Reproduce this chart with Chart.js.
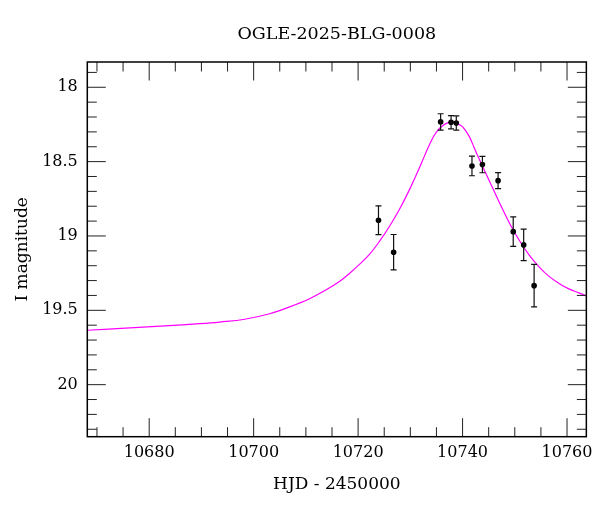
<!DOCTYPE html>
<html>
<head>
<meta charset="utf-8">
<script src="https://cdn.jsdelivr.net/npm/chart.js@4"></script>
<style>
  html, body { margin: 0; padding: 0; background: #fff; }
  #wrap { width: 600px; height: 512px; position: relative; }
</style>
</head>
<body>
<div id="wrap"><canvas id="c"></canvas></div>
<script>
// ---- Data ----
const obsHJD = [10723.9, 10726.8, 10735.8, 10737.8, 10738.8, 10741.8, 10743.8, 10746.8, 10749.7, 10751.7, 10753.7];
const obsMag = [18.894, 19.109, 18.233, 18.235, 18.240, 18.529, 18.520, 18.628, 18.971, 19.060, 19.334];
const obsErr = [0.097, 0.119, 0.055, 0.045, 0.048, 0.066, 0.055, 0.054, 0.099, 0.106, 0.143];

const modelHJD = [10668.15, 10676.31, 10683.0, 10689.68, 10693.5, 10698.28, 10703.06, 10706.88, 10710.70, 10713.56,
                  10716.43, 10718.34, 10720.25, 10722.17, 10724.08, 10725.99, 10727.90, 10729.81, 10731.72, 10732.7,
                  10733.63, 10734.5, 10735.3, 10736.1, 10736.9, 10737.9, 10738.9, 10739.6, 10740.12, 10741.27,
                  10742.22, 10743.18, 10745.09, 10747.0, 10748.91, 10750.82, 10752.73, 10754.64, 10756.55, 10758.46,
                  10760.37, 10762.28, 10763.7];
const modelMag = [19.634, 19.618, 19.605, 19.590, 19.579, 19.560, 19.523, 19.477, 19.422, 19.369,
                  19.306, 19.252, 19.191, 19.124, 19.037, 18.936, 18.822, 18.690, 18.543, 18.463,
                  18.389, 18.328, 18.288, 18.261, 18.243, 18.235, 18.243, 18.256, 18.270, 18.330,
                  18.406, 18.482, 18.627, 18.771, 18.909, 19.027, 19.127, 19.208, 19.272, 19.319,
                  19.356, 19.383, 19.403];

const xTickValues = [10680, 10700, 10720, 10740, 10760];
const xTickLabels = ["10680", "10700", "10720", "10740", "10760"];
const yTickValues = [18, 18.5, 19, 19.5, 20];
const yTickLabels = ["18", "18.5", "19", "19.5", "20"];

const titleText = "OGLE-2025-BLG-0008";
const xTitle = "HJD - 2450000";
const yTitle = "I magnitude";

const X_MIN = 10668.15, X_MAX = 10763.7;
const Y_MIN = 17.83, Y_MAX = 20.35;
const X_MINOR_STEP = 5, Y_MINOR_STEP = 0.1;

// ---- Plugins ----
const frameTicks = {
  id: 'frameTicks',
  afterDraw(chart) {
    const {ctx, chartArea: a, scales: {x, y}} = chart;
    ctx.save();
    ctx.strokeStyle = '#222';
    ctx.lineWidth = 1;
    const MAJ = 18.5, MIN = 9.5;
    const x0 = Math.ceil(X_MIN / X_MINOR_STEP) * X_MINOR_STEP;
    for (let v = x0; v <= X_MAX + 1e-9; v += X_MINOR_STEP) {
      const px = x.getPixelForValue(v);
      const major = xTickValues.some(t => Math.abs(t - v) < 1e-6);
      const len = major ? MAJ : MIN;
      ctx.beginPath();
      ctx.moveTo(px, a.bottom); ctx.lineTo(px, a.bottom - len);
      ctx.moveTo(px, a.top); ctx.lineTo(px, a.top + len);
      ctx.stroke();
    }
    const y0 = Math.ceil(Y_MIN / Y_MINOR_STEP - 1e-9);
    for (let k = y0; k * Y_MINOR_STEP <= Y_MAX + 1e-9; k++) {
      const v = k * Y_MINOR_STEP;
      const py = y.getPixelForValue(v);
      const major = yTickValues.some(t => Math.abs(t - v) < 1e-6);
      const len = major ? MAJ : MIN;
      ctx.beginPath();
      ctx.moveTo(a.left, py); ctx.lineTo(a.left + len, py);
      ctx.moveTo(a.right, py); ctx.lineTo(a.right - len, py);
      ctx.stroke();
    }
    ctx.strokeStyle = '#000';
    ctx.lineWidth = 1.5;
    ctx.strokeRect(a.left, a.top, a.right - a.left, a.bottom - a.top);
    ctx.restore();
  }
};

const errorBars = {
  id: 'errorBars',
  afterDatasetsDraw(chart) {
    const {ctx, scales: {x, y}} = chart;
    ctx.save();
    ctx.strokeStyle = '#111';
    ctx.lineWidth = 1.2;
    for (let i = 0; i < obsHJD.length; i++) {
      const px = x.getPixelForValue(obsHJD[i]);
      const p1 = y.getPixelForValue(obsMag[i] - obsErr[i]);
      const p2 = y.getPixelForValue(obsMag[i] + obsErr[i]);
      const cap = 3;
      ctx.beginPath();
      ctx.moveTo(px, p1); ctx.lineTo(px, p2);
      ctx.moveTo(px - cap, p1); ctx.lineTo(px + cap, p1);
      ctx.moveTo(px - cap, p2); ctx.lineTo(px + cap, p2);
      ctx.stroke();
    }
    ctx.restore();
  }
};

const serif = 'DejaVu Serif';

new Chart(document.getElementById('c'), {
  type: 'scatter',
  data: {
    datasets: [
      {
        label: 'data',
        data: obsHJD.map((t, i) => ({x: t, y: obsMag[i]})),
        backgroundColor: '#000',
        borderColor: '#000',
        pointRadius: 2.8,
        pointBorderWidth: 0,
        showLine: false
      },
      {
        label: 'model',
        data: modelHJD.map((t, i) => ({x: t, y: modelMag[i]})),
        borderColor: '#ff00ff',
        borderWidth: 1.2,
        pointRadius: 0,
        showLine: true,
        fill: false,
        tension: 0.4
      }
    ]
  },
  plugins: [errorBars, frameTicks],
  options: {
    responsive: true,
    maintainAspectRatio: false,
    animation: false,
    layout: { padding: { left: 0, right: 12.7, top: 0, bottom: 0 } },
    plugins: {
      legend: { display: false },
      tooltip: { enabled: false },
      title: {
        display: true,
        fullSize: false,
        text: titleText,
        color: '#000',
        font: { family: serif, size: 17.5, weight: 'normal' },
        padding: { top: 23.5, bottom: 17.5 }
      }
    },
    scales: {
      x: {
        type: 'linear',
        min: X_MIN, max: X_MAX,
        afterBuildTicks: (s) => { s.ticks = xTickValues.map(v => ({value: v})); },
        afterFit: (s) => { s.height = 75.3; },
        grid: { display: false, drawTicks: false },
        border: { display: false },
        ticks: {
          color: '#000',
          padding: 7,
          maxRotation: 0,
          font: { family: serif, size: 16 },
          callback: (v) => { const i = xTickValues.indexOf(v); return i >= 0 ? xTickLabels[i] : ''; }
        },
        title: {
          display: true, text: xTitle, color: '#000',
          font: { family: serif, size: 17 },
          padding: { top: 0, bottom: 17.5 }
        }
      },
      y: {
        type: 'linear',
        reverse: true,
        min: Y_MIN, max: Y_MAX,
        afterBuildTicks: (s) => { s.ticks = yTickValues.map(v => ({value: v})); },
        afterFit: (s) => { s.width = 87.3; },
        grid: { display: false, drawTicks: false },
        border: { display: false },
        ticks: {
          color: '#000',
          padding: 9.5,
          font: { family: serif, size: 16 },
          callback: (v) => { const i = yTickValues.indexOf(v); return i >= 0 ? yTickLabels[i] : ''; }
        },
        title: {
          display: true, text: yTitle, color: '#000',
          font: { family: serif, size: 17 },
          padding: { top: 12, bottom: 0 }
        }
      }
    }
  }
});
</script>
</body>
</html>
